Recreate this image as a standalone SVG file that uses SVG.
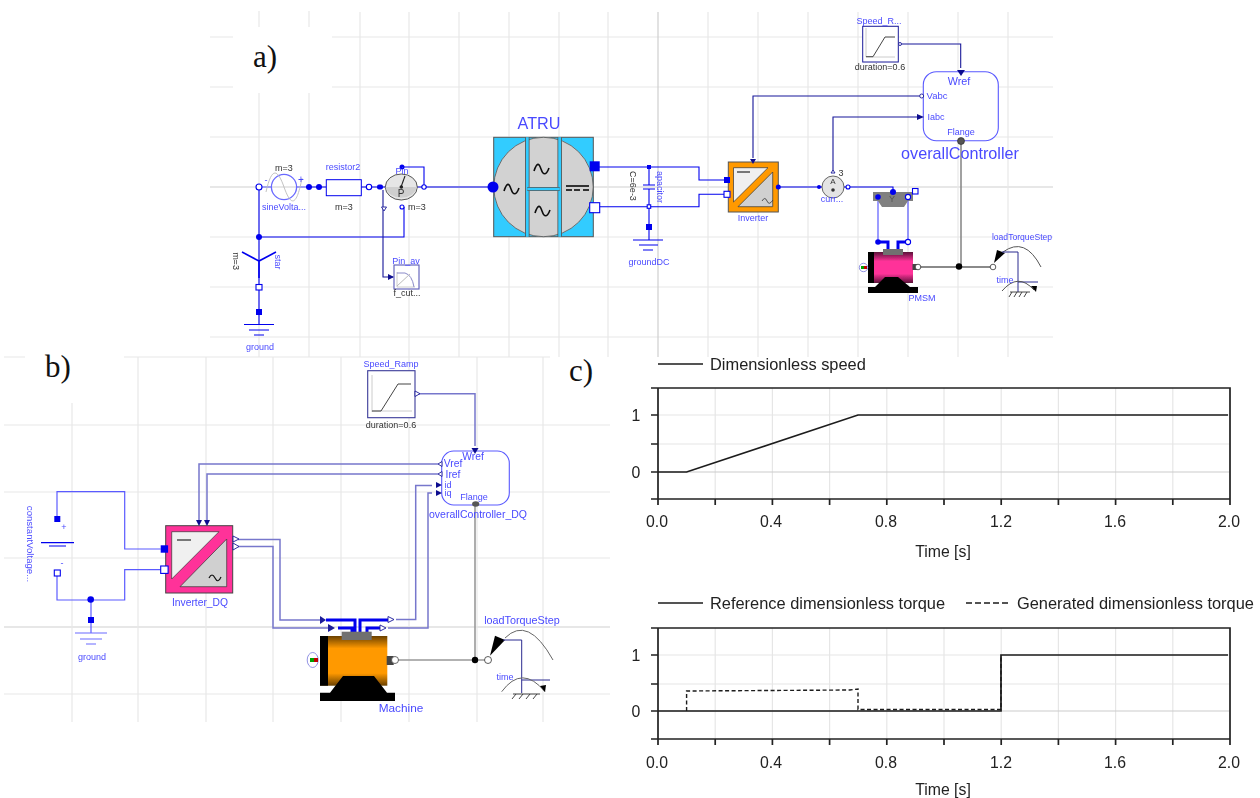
<svg xmlns="http://www.w3.org/2000/svg" width="1260" height="798" viewBox="0 0 1260 798">
<style>
text{font-family:"Liberation Sans",Arial,sans-serif;text-anchor:middle;dominant-baseline:central}
.lb{fill:#4a4aff;font-size:9px}
.lb2{fill:#4a4aff;font-size:10.300px}
.dk{fill:#333;font-size:9px}
.bg{fill:#4a4aff;font-size:16.200px}
.ser{font-family:"Liberation Serif","Times New Roman",serif;font-size:31px;fill:#111;text-anchor:start;dominant-baseline:auto}
.ax{fill:#222;font-size:15.800px}
.leg{fill:#222;font-size:16.400px;text-anchor:start}
.g1{stroke:#e8e8e8;stroke-width:1.2;fill:none}
.g2{stroke:#cfcfcf;stroke-width:1.2;fill:none}
.w{stroke:#0000ee;stroke-width:1.1;fill:none}
.wl{stroke:#5a5aff;stroke-width:1.2;fill:none}
.sig{stroke:#1a1a99;stroke-width:1.1;fill:none}
.sl{stroke:#7777cc;stroke-width:1.5;fill:none}
.th{stroke:#0000ee;stroke-width:3;fill:none}
.mech{stroke:#111;stroke-width:1.1;fill:none}
.mg{stroke:#8a8a8a;stroke-width:1.6;fill:none}
.of{fill:#fff;stroke:#0000ee;stroke-width:1.1}
.ff{fill:#0000ee}
.nv{fill:#11118f}
.ol{fill:#fff;stroke:#1a1a99;stroke-width:.9}
.blk{fill:#000}
.ai{fill:none;stroke:#111;stroke-width:1.6}
.ic{stroke:#2b2b8f;stroke-width:1;fill:none}
.gr{stroke:#0000ee;stroke-width:1.1;fill:none}
.grl{stroke:#6a6aff;stroke-width:1.2;fill:none}
.h{stroke:#333;stroke-width:.9;fill:none}
.ca{stroke:#222;stroke-width:1.7;fill:none}
.cg{stroke:#e6e6e6;stroke-width:1.2;fill:none}
.c0{stroke:#cccccc;stroke-width:1.2;fill:none}
.cl{stroke:#1c1c1c;stroke-width:1.7;fill:none}
.cd{stroke:#1c1c1c;stroke-width:1.4;fill:none;stroke-dasharray:4 2.5}
</style>
<defs>
<linearGradient id="mag" x1="0" y1="0" x2="0" y2="1"><stop offset="0" stop-color="#5a1038"/><stop offset=".3" stop-color="#ff3399"/><stop offset=".7" stop-color="#ff3399"/><stop offset="1" stop-color="#5a1038"/></linearGradient>
<linearGradient id="org" x1="0" y1="0" x2="0" y2="1"><stop offset="0" stop-color="#6a4000"/><stop offset=".25" stop-color="#ff9900"/><stop offset=".75" stop-color="#ff9900"/><stop offset="1" stop-color="#6a4000"/></linearGradient>
<filter id="soft" x="-5%" y="-5%" width="110%" height="110%"><feGaussianBlur stdDeviation="0.35"/></filter>
</defs>
<rect width="1260" height="798" fill="#fff"/>
<g id="grid-a">
<path class="g1" d="M210 37H233M332 37H1053M210 87H233M332 87H1053M210 137H1053M210 237H1053M210 287H1053M210 337H1053"/>
<path class="g2" d="M210 187H1053M658 12V357"/>
<path class="g1" d="M259 11V27M259 93V357M309 11V27M309 93V357M360 12V357M409 12V357M459 12V357M509 12V357M559 12V357M608 12V357M708 12V357M758 12V357M808 12V357M858 12V357M908 12V357M958 12V357M1008 12V357"/>
</g>
<g id="grid-b">
<path class="g1" d="M4 357H25M124 357H550M4 425H610M4 492H610M4 558H610M4 694H610"/>
<path class="g2" d="M4 627H610"/>
<path class="g1" d="M72 403V722M138 357V722M206 357V722M273 357V722M341 357V722M409 357V722M477 357V722M543 357V722"/>
</g>
<text class="ser" x="253" y="67">a)</text>
<text class="ser" x="45" y="377">b)</text>
<text class="ser" x="569" y="381">c)</text>

<g filter="url(#soft)">
<g id="connectors-a">
<path class="wl" d="M259 187H272M296 187H309"/>
<path class="w" d="M309 187H326M361 187H369M369 187H386"/>
<path class="w" d="M417 187H493"/>
<path class="w" d="M402 167H424V187"/>
<path class="w" d="M404 207V237H259M259 187V261M259 261V312V324"/>
<path class="sig" d="M383 190V277H393"/>
<path class="w" d="M598 167H699V180H724M598 206.700H699V194.300H724"/>
<path class="w" d="M649 167V185M649 189V240"/>
<path class="sig" d="M921 96H753V158"/>
<path class="sig" d="M920 117H833V172"/>
<path class="sig" d="M900 44H960.700V68"/>
<path class="w" d="M778 187H822M844 187H893V192"/>
<path class="wl" d="M878 197V242M908 197V242"/>
<path class="th" d="M878 242H888V250M908 242H898V250"/>
<path class="mg" d="M961 141V266"/>
<path class="mech" d="M918 267H993"/>
</g>

<g id="sineVoltage">
<circle cx="284" cy="187" r="12.600" fill="none" stroke="#6a6aff" stroke-width="1.300"/>
<path d="M266 192C272 165 278 170 284 187S296 210 302 178" fill="none" stroke="#bbb" stroke-width=".9"/>
<circle class="of" cx="259" cy="187" r="3"/>
<circle class="ff" cx="309" cy="187" r="3"/>
<text class="dk" x="284" y="168">m=3</text>
<text class="lb" x="266" y="180">-</text>
<text class="lb" x="301" y="179" style="font-size:10px">+</text>
<text class="lb" x="284" y="207">sineVolta...</text>
</g>
<g id="resistor2">
<circle class="ff" cx="319" cy="187" r="3"/>
<rect x="326.300" y="179.700" width="35" height="16" fill="#fff" stroke="#0000ee" stroke-width="1"/>
<circle class="of" cx="369" cy="187" r="2.700"/>
<text class="lb" x="343" y="167">resistor2</text>
<text class="dk" x="344" y="207">m=3</text>
</g>
<g id="powerSensor">
<rect x="377" y="184.500" width="6" height="5" rx="2" class="ff"/>
<ellipse cx="401.300" cy="187" rx="16" ry="13" fill="#e6e6e6" stroke="#444" stroke-width=".9"/>
<path d="M385.500 187A16 13 0 0 0 417 187Z" fill="#cfcfcf"/>
<path d="M401 187L405 176" stroke="#222" stroke-width="1.100"/>
<circle cx="401.300" cy="187" r="1.800" fill="#222"/>
<circle class="ff" cx="402" cy="167" r="2.500"/>
<circle class="of" cx="424" cy="187" r="2.200"/>
<circle class="of" cx="402" cy="207" r="2"/>
<path class="ol" d="M381.500 207H386.500L384 211Z"/>
<text class="lb" x="402" y="171">Pin</text>
<text class="dk" x="401" y="193" style="font-size:10px">P</text>
<text class="dk" x="417" y="207">m=3</text>
</g>
<g id="star">
<circle class="ff" cx="259" cy="237" r="3"/>
<path d="M242 252L259 261L276 252M259 261V278" fill="none" stroke="#0000ee" stroke-width="1.600"/>
<rect class="of" x="256" y="284.500" width="6" height="5.500"/>
<text class="lb" transform="translate(278 262) rotate(90)">star</text>
<text class="dk" transform="translate(236 261) rotate(90)">m=3</text>
</g>
<g id="ground">
<rect class="ff" x="256" y="309" width="6" height="6"/>
<path class="gr" d="M244 324.500H274M249 330H269M254 335H264"/>
<text class="lb" x="260" y="347">ground</text>
</g>
<g id="Pin_av">
<rect x="394" y="265" width="25" height="24" fill="#fff" stroke="#5a5ab8" stroke-width="1.100"/>
<path d="M397 287H415M397 272V287" stroke="#ccc" fill="none"/>
<path d="M397 273H405Q412 275 414 287" stroke="#8a8ac8" fill="none"/>
<path d="M397 286L410 274" stroke="#bbb"/>
<path class="nv" d="M388 274L394 277L388 280Z"/>
<text class="lb" x="406" y="261">Pin_av</text>
<text class="dk" x="407" y="293">f_cut...</text>
</g>
<g id="ATRU">
<rect x="493.700" y="137.300" width="99.600" height="99.400" fill="#33ccff" stroke="#555" stroke-width="1"/>
<circle cx="543.500" cy="187" r="49.700" fill="#d2d2d2" stroke="#555" stroke-width=".8"/>
<path d="M527.300 137.300V236.700M559.700 137.300V236.700" stroke="#555" stroke-width="4.500"/>
<path d="M527.300 137.300V236.700M559.700 137.300V236.700" stroke="#33ccff" stroke-width="2.800"/>
<path d="M527.300 189H559.700" stroke="#555" stroke-width="4"/>
<path d="M527.300 189H559.700" stroke="#33ccff" stroke-width="2.600"/>
<path class="ai" d="M504 191c3-9 5-8 7-2s5 7 8-1M534 171c3-9 5-8 7-2s5 7 8-1M535 213c3-9 5-8 7-2s5 7 8-1"/>
<path d="M566 186H589M566 190H572M574 190H580M583 190H589" stroke="#333" stroke-width="1.800"/>
<circle class="ff" cx="493" cy="187" r="5.500"/>
<rect class="ff" x="589.700" y="161.300" width="10" height="10"/>
<rect class="of" x="589.700" y="202.700" width="10" height="10"/>
<text class="bg" x="539" y="123">ATRU</text>
</g>
<g id="capacitor">
<rect class="ff" x="647" y="165" width="4" height="4"/>
<path d="M643 185H655M643 189H655" stroke="#0000ee" stroke-width="1.200"/>
<rect class="of" x="647.200" y="204.800" width="3.500" height="3.500"/>
<text class="dk" transform="translate(633 186) rotate(90)">C=6e-3</text>
<text class="lb" transform="translate(660 187) rotate(90)">apacitor</text>
</g>
<g id="groundDC">
<rect class="ff" x="646" y="224" width="6" height="6"/>
<path class="gr" d="M633 240H663M639 245H658M643 250H653"/>
<text class="lb" x="649" y="262">groundDC</text>
</g>
<g id="Inverter">
<rect x="728.300" y="162" width="50" height="50" fill="#ff9900" stroke="#555" stroke-width="1"/>
<path d="M733.500 167.700H768L733.500 202Z" fill="#f0f0f0" stroke="#333" stroke-width=".7"/>
<path d="M772.700 172V206.700H738Z" fill="#d0d0d0" stroke="#333" stroke-width=".7"/>
<path d="M737 172H750" stroke="#777" stroke-width="2"/>
<path d="M762 201Q765 196 767 201T773 200" stroke="#333" fill="none" stroke-width=".8"/>
<rect class="ff" x="724" y="177" width="6" height="6"/>
<rect class="of" x="724" y="191.300" width="6" height="6"/>
<circle class="ff" cx="778.300" cy="187" r="2.500"/>
<path class="nv" d="M750 159H756L753 164Z"/>
<text class="lb" x="753" y="218">Inverter</text>
</g>
<g id="Speed_R">
<rect x="862.700" y="26.300" width="35.600" height="35.700" fill="#fff" stroke="#1a1a99" stroke-width="1"/>
<path d="M866 57V28M866 57H895" stroke="#ccc" fill="none"/>
<path d="M866 56.700H873L885 37H895" stroke="#444" stroke-width="1" fill="none"/>
<circle class="ol" cx="900" cy="44" r="1.500"/>
<text class="lb" x="879" y="21">Speed_R...</text>
<text class="dk" x="880" y="67">duration=0.6</text>
</g>
<g id="overallController">
<rect x="923.300" y="71.700" width="75" height="69" rx="13" fill="#fff" stroke="#5a5aff" stroke-width="1.100"/>
<path class="nv" d="M957 70H965L961 76Z"/>
<circle class="ol" cx="921.700" cy="96" r="2"/>
<path class="nv" d="M917 114L924 117L917 120Z"/>
<circle cx="961" cy="141" r="3.500" fill="#555" stroke="#222" stroke-width=".6"/>
<text class="lb" x="959" y="81" style="font-size:10.800px">Wref</text>
<text class="lb" x="937" y="95" style="font-size:9.500px">Vabc</text>
<text class="lb" x="936" y="117">Iabc</text>
<text class="lb" x="961" y="132">Flange</text>
<text class="bg" x="960" y="153">overallController</text>
</g>
<g id="currentSensor">
<circle cx="833" cy="187" r="11" fill="#e4e4e4" stroke="#444" stroke-width=".8"/>
<circle cx="833" cy="190" r="1.800" fill="#333"/>
<circle class="ff" cx="819" cy="187" r="2"/>
<circle class="of" cx="848" cy="187" r="2"/>
<path class="ol" d="M831 173H835L833 170Z"/>
<text class="dk" x="833" y="181" style="font-size:8px">A</text>
<text class="dk" x="841" y="173">3</text>
<text class="lb" x="832" y="199">curr...</text>
</g>
<g id="terminalBox">
<path d="M873 192H913V201L908 201L904 207H882L878 201H873Z" fill="#808080"/>
<circle class="ff" cx="893" cy="192" r="3"/>
<circle class="ff" cx="878" cy="197" r="2.800"/>
<circle class="of" cx="908" cy="197" r="2.600"/>
<rect class="of" x="912.500" y="188.500" width="5.500" height="5.500"/>
<text x="892" y="199" style="font-size:9px;fill:#555">Y</text>
</g>
<g id="PMSM">
<rect x="868" y="252" width="45" height="31" fill="url(#mag)"/>
<rect x="868" y="252" width="6" height="31" fill="#000"/>
<rect x="883" y="249" width="20" height="6" fill="#6f6f6f"/>
<path class="blk" d="M868 293H918V287H910L898 277H885L875 287H868Z"/>
<rect x="912.500" y="264" width="5" height="6" fill="#444"/>
<circle cx="918" cy="267" r="2.800" fill="#fff" stroke="#333" stroke-width=".8"/>
<circle class="ff" cx="878" cy="242" r="2.800"/>
<circle class="of" cx="908" cy="242" r="2.600"/>
<circle cx="863.500" cy="267.500" r="4.200" fill="#fff" stroke="#7777dd" stroke-width=".8"/>
<rect x="861" y="266" width="3" height="3" fill="#00a000"/>
<rect x="864" y="266" width="3" height="3" fill="#c00000"/>
<text class="lb" x="922" y="298">PMSM</text>
</g>
<circle id="junction-a" class="blk" cx="959" cy="266.500" r="3.200"/>
<g id="loadTorqueStep">
<circle cx="993" cy="267" r="2.800" fill="#fff" stroke="#333" stroke-width=".8"/>
<path class="blk" d="M994 263L997 250L1005 253Z"/>
<path d="M1003 252Q1025 236 1041 267" stroke="#555" fill="none"/>
<path class="ic" d="M1002 252H1018V292M1018 282H1038"/>
<path d="M1002 291Q1018 272 1034 290" stroke="#555" fill="none"/>
<path class="blk" d="M1031 286L1037 286L1036 292Z"/>
<path class="h" d="M1010 292H1030M1012 292L1009 297M1017 292L1014 297M1022 292L1019 297M1027 292L1024 297"/>
<text class="lb" x="1022" y="237" style="font-size:8.600px">loadTorqueStep</text>
<text class="lb" x="1005" y="280">time</text>
</g>

<g id="connectors-b">
<path class="wl" d="M57 519V491.700H124.700V549H160.700M57 573V600H124.700V569.700H160.700M91 600V620V633"/>
<path class="sl" d="M199 520V464H438M207 520V474H438"/>
<path class="sl" d="M238 539.500H280V620H320M238 546.500H273V628H330"/>
<path class="sl" d="M396 619.500H415.700V485.500H432M388 628H428V493H432"/>
<path class="th" d="M326 620H355V632M338 628H352V632M360 632V620H388M367 632V628H380"/>
<path class="sl" d="M418 393.700H475V446"/>
<path class="mg" style="stroke:#999" d="M475 505V660M398 660H485"/>
</g>
<g id="constantVoltage">
<rect class="ff" x="54.300" y="516" width="6" height="6"/>
<rect class="of" x="54.300" y="570" width="6" height="6"/>
<path d="M41 542.700H74M49 546H66" stroke="#0000ee" stroke-width="1.200"/>
<text class="lb" x="64" y="527">+</text>
<text class="lb" x="62" y="563">-</text>
<text class="lb" transform="translate(30 544) rotate(90)" style="font-size:9.600px">constantVoltage...</text>
</g>
<g id="ground-b">
<circle class="ff" cx="90.700" cy="599.500" r="3.300"/>
<rect class="ff" x="88" y="617" width="6" height="6"/>
<path class="grl" d="M75 633H107M80 639H102M86 644H96"/>
<text class="lb" x="92" y="657">ground</text>
</g>
<g id="Inverter_DQ">
<rect x="165.700" y="525.700" width="67" height="67.300" fill="#ff3399" stroke="#444" stroke-width="1"/>
<path d="M171.700 531.700H219L171.700 579Z" fill="#f0f0f0" stroke="#333" stroke-width=".7"/>
<path d="M226.700 539V586.700H180Z" fill="#d0d0d0" stroke="#333" stroke-width=".7"/>
<path d="M177 540H191" stroke="#777" stroke-width="2"/>
<path d="M209 578Q212 572 215 578T221 577" stroke="#111" fill="none" stroke-width="1.200"/>
<rect class="ff" x="160.700" y="545.300" width="7.400" height="7.400"/>
<rect class="of" x="160.700" y="566" width="7.400" height="7.400"/>
<path class="nv" d="M196 520H202L199 526ZM204 520H210L207 526Z"/>
<path class="ol" d="M233 536L239 539L233 542ZM233 543L239 546.500L233 550Z"/>
<text class="lb2" x="200" y="602">Inverter_DQ</text>
</g>
<g id="Speed_Ramp">
<rect x="367.700" y="370.700" width="47.300" height="47" fill="#fff" stroke="#3a3a99" stroke-width="1.100"/>
<path d="M372 412V375M372 411H412" stroke="#ccc" fill="none"/>
<path d="M372 411H381L398 384H411" stroke="#444" stroke-width="1" fill="none"/>
<path class="ol" d="M415 391L420 393.700L415 396.500Z"/>
<text class="lb" x="391" y="364">Speed_Ramp</text>
<text class="dk" x="391" y="425">duration=0.6</text>
</g>
<g id="overallController_DQ">
<rect x="441.700" y="451" width="67.600" height="54" rx="12" fill="#fff" stroke="#5a5aff" stroke-width="1.100"/>
<path class="nv" d="M471.500 448H478.500L475 454Z"/>
<path class="ol" d="M442 461.500L438 464L442 466.500ZM442 471.500L438 474L442 476.500Z"/>
<path class="nv" d="M436 482L442 485L436 488ZM436 490L442 493L436 496Z"/>
<ellipse cx="475.700" cy="504" rx="3.600" ry="2.700" fill="#555"/>
<text class="lb2" x="473" y="456">Wref</text>
<text class="lb2" x="453" y="463">Vref</text>
<text class="lb2" x="453" y="474">Iref</text>
<text class="lb" x="448" y="485">id</text>
<text class="lb" x="448" y="493">iq</text>
<text class="lb" x="474" y="497">Flange</text>
<text class="lb2" x="478" y="514" style="font-size:10.500px">overallController_DQ</text>
</g>
<g id="Machine">
<rect x="320" y="636" width="67.300" height="49.700" fill="url(#org)"/>
<rect x="320" y="636" width="8" height="49.700" fill="#000"/>
<rect x="341.700" y="631.700" width="30" height="8.300" fill="#6f6f6f"/>
<path class="blk" d="M320 701H395V692.700H387L374 676H343L330 692.700H320Z"/>
<rect x="386.700" y="656" width="7" height="9" fill="#444"/>
<circle cx="395" cy="660" r="3.500" fill="#fff" stroke="#444" stroke-width=".8"/>
<path style="fill:#1a1a99" d="M320 616L326 620L320 624Z"/>
<path style="fill:#1a1a99" d="M328 624L335 628L328 632Z"/>
<path class="ol" d="M388 616.500L394 619.500L388 622.500ZM380 625L386 628L380 631Z"/>
<ellipse cx="312.700" cy="660" rx="5.500" ry="7.500" fill="#fff" stroke="#7777dd" stroke-width=".8"/>
<rect x="310" y="658" width="4" height="4" fill="#00a000"/>
<rect x="314" y="658" width="4" height="4" fill="#c00000"/>
<text class="lb2" x="401" y="708" style="font-size:11.800px">Machine</text>
</g>
<circle id="junction-b" class="blk" cx="475" cy="660" r="3.200"/>
<g id="loadTorqueStep-b">
<circle cx="488" cy="660" r="3.500" fill="#fff" stroke="#333" stroke-width=".8"/>
<path class="blk" d="M490 655.700L495 635.700L505 640Z"/>
<path d="M505 638Q528 615 553 660" stroke="#666" fill="none"/>
<path class="ic" d="M503 640H521.700V693M521.700 680H550"/>
<path d="M501.700 691.700Q522 664 545 691.700" stroke="#666" fill="none"/>
<path class="blk" d="M540 686L546 685L545 692Z"/>
<path class="h" d="M513 694H540M516 694L512 699M523 694L519 699M530 694L526 699M537 694L533 699"/>
<text class="lb2" x="522" y="620" style="font-size:10.800px">loadTorqueStep</text>
<text class="lb" x="505" y="677">time</text>
</g>

<g id="chart-speed">
<path class="cl" d="M658 364H703"/>
<text class="leg" x="710" y="364">Dimensionless speed</text>
<path class="cg" d="M715.200 388V499M772.400 388V499M829.600 388V499M886.800 388V499M944 388V499M1001.200 388V499M1058.400 388V499M1115.600 388V499M1172.800 388V499M658 415H1230M658 444H1230"/>
<path class="c0" d="M658 472H1230"/>
<path class="ca" d="M651 388H1230V499H651M658 388V505M651 415H658M651 444H658M651 472H658M715.200 499V505M772.400 499V505M829.600 499V505M886.800 499V505M944 499V505M1001.200 499V505M1058.400 499V505M1115.600 499V505M1172.800 499V505M1230 499V505"/>
<path class="cl" d="M658 472H686.600L858 415H1228"/>
<text class="ax" x="636" y="415">1</text>
<text class="ax" x="636" y="472">0</text>
<text class="ax" x="657" y="521">0.0</text>
<text class="ax" x="771" y="521">0.4</text>
<text class="ax" x="886" y="521">0.8</text>
<text class="ax" x="1001" y="521">1.2</text>
<text class="ax" x="1115" y="521">1.6</text>
<text class="ax" x="1229" y="521">2.0</text>
<text class="ax" x="943" y="551">Time [s]</text>
</g>
<g id="chart-torque">
<path class="cl" d="M658 603H703"/>
<text class="leg" x="710" y="603">Reference dimensionless torque</text>
<path class="cd" style="stroke-dasharray:6 3" d="M966 603H1010"/>
<text class="leg" x="1017" y="603">Generated dimensionless torque</text>
<path class="cg" d="M715.200 628V739M772.400 628V739M829.600 628V739M886.800 628V739M944 628V739M1001.200 628V739M1058.400 628V739M1115.600 628V739M1172.800 628V739M658 655H1230M658 684H1230"/>
<path class="c0" d="M658 711H1230"/>
<path class="ca" d="M651 628H1230V739H651M658 628V745M651 655H658M651 684H658M651 711H658M715.200 739V745M772.400 739V745M829.600 739V745M886.800 739V745M944 739V745M1001.200 739V745M1058.400 739V745M1115.600 739V745M1172.800 739V745M1230 739V745"/>
<path class="cl" d="M658 711H1001V655H1228"/>
<path class="cd" d="M686.600 711V691L850 690L858 689V709.500H1001V655"/>
<text class="ax" x="636" y="655">1</text>
<text class="ax" x="636" y="711">0</text>
<text class="ax" x="657" y="762">0.0</text>
<text class="ax" x="771" y="762">0.4</text>
<text class="ax" x="886" y="762">0.8</text>
<text class="ax" x="1001" y="762">1.2</text>
<text class="ax" x="1115" y="762">1.6</text>
<text class="ax" x="1229" y="762">2.0</text>
<text class="ax" x="943" y="789">Time [s]</text>
</g>
</g>
</svg>
